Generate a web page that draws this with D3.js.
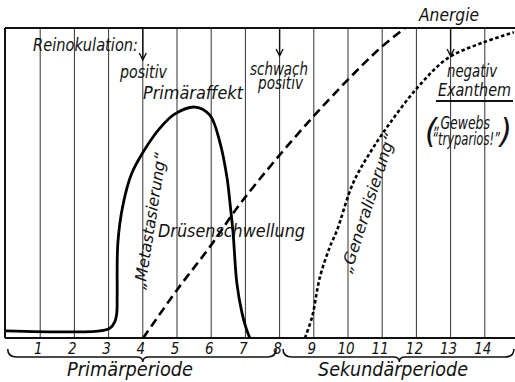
<!DOCTYPE html>
<html>
<head>
<meta charset="utf-8">
<script src="https://cdn.jsdelivr.net/npm/d3@7"></script>
<style>
  body { margin: 0; background: #fff; }
  svg text { font-family: "Liberation Sans Narrow", "DejaVu Sans Condensed", sans-serif; font-style: italic; fill: #111; }
</style>
</head>
<body>
<div id="vis"></div>
<script>
// days of the course, x axis
var days = [1, 2, 3, 4, 5, 6, 7, 8, 9, 10, 11, 12, 13, 14];
var tickLabels = ["1", "2", "3", "4", "5", "6", "7", "8", "9", "10", "11", "12", "13", "14"];

// curves, [day, intensity 0..100]
var primaeraffekt = [
  [0, 2.3], [2.75, 2.3], [3.04, 3.2], [3.18, 5.2], [3.24, 8.1], [3.25, 13.2],
  [3.27, 30.6], [3.42, 42.9], [3.68, 53.2], [4.01, 60.0], [4.5, 67.7], [4.94, 72.3],
  [5.53, 74.5], [5.96, 71.9], [6.26, 62.9], [6.46, 51.9], [6.55, 43.5], [6.64, 33.9],
  [6.75, 17.7], [6.9, 8.1], [7.02, 3.2], [7.13, 0]
];
var druesenschwellung = [
  [4.01, 0], [5.0, 15.5], [5.96, 29.4], [6.93, 44.5], [8.95, 71.0], [10.88, 92.9], [11.67, 100]
];
var generalisierung = [
  [8.74, 0], [8.95, 6.8], [9.18, 19.7], [9.47, 29.4], [9.68, 34.8], [10.15, 50],
  [10.64, 59.7], [11.23, 69.4], [12.05, 81.0], [12.92, 90.3], [13.92, 95.2], [14.85, 98.6]
];
// reinokulation arrows [day, label lines]
var arrowDays = [4, 8, 13];

var width = 515, height = 382;
var margin = { top: 28, left: 6, bottom: 44 };

var x = d3.scaleLinear().domain([0, 15]).range([margin.left, margin.left + 34.2 * 15]);
var y = d3.scaleLinear().domain([0, 100]).range([height - margin.bottom, margin.top]);

var svg = d3.select("#vis").append("svg")
  .attr("width", width)
  .attr("height", height);

////////// grid + frame //////////
svg.append("g").selectAll("line")
  .data(days)
  .enter().append("line")
  .attr("x1", function (d) { return x(d); })
  .attr("x2", function (d) { return x(d); })
  .attr("y1", y(100))
  .attr("y2", y(0))
  .attr("stroke", "#333")
  .attr("stroke-width", 1);

svg.append("line").attr("x1", x(0) - 1).attr("x2", width).attr("y1", y(100)).attr("y2", y(100))
  .attr("stroke", "#111").attr("stroke-width", 2);
svg.append("line").attr("x1", x(0) - 1).attr("x2", width).attr("y1", y(0)).attr("y2", y(0))
  .attr("stroke", "#111").attr("stroke-width", 2);
svg.append("line").attr("x1", x(0) - 1).attr("x2", x(0) - 1).attr("y1", y(100)).attr("y2", y(0))
  .attr("stroke", "#111").attr("stroke-width", 2);

// tick labels
svg.append("g").selectAll("text")
  .data(days)
  .enter().append("text")
  .attr("x", function (d) { return x(d) - 2; })
  .attr("y", y(0) + 16)
  .attr("text-anchor", "middle")
  .style("font-size", "15px")
  .text(function (d, i) { return tickLabels[i]; });

////////// curves //////////
var line = d3.line()
  .x(function (d) { return x(d[0]); })
  .y(function (d) { return y(d[1]); })
  .curve(d3.curveCatmullRom.alpha(0.5));

svg.append("path").datum(primaeraffekt)
  .attr("d", line).attr("fill", "none")
  .attr("stroke", "#000").attr("stroke-width", 2.8);

svg.append("path").datum(druesenschwellung)
  .attr("d", line).attr("fill", "none")
  .attr("stroke", "#000").attr("stroke-width", 2.6)
  .attr("stroke-dasharray", "9,5");

svg.append("path").datum(generalisierung)
  .attr("d", line).attr("fill", "none")
  .attr("stroke", "#000").attr("stroke-width", 2.6)
  .attr("stroke-dasharray", "3.5,2.5");

////////// arrows //////////
var arrowEnd = [60, 56, 56];
svg.append("g").selectAll("path")
  .data(arrowDays)
  .enter().append("path")
  .attr("d", function (d, i) {
    var cx = x(d), cy = arrowEnd[i];
    return "M" + cx + "," + y(100) + "V" + cy +
      "M" + (cx - 3.5) + "," + (cy - 7) + "L" + cx + "," + cy + "L" + (cx + 3.5) + "," + (cy - 7);
  })
  .attr("fill", "none")
  .attr("stroke", "#111")
  .attr("stroke-width", 1.4);

////////// labels //////////
function label(txt, px, py, size, len, anchor) {
  var t = svg.append("text")
    .attr("x", px).attr("y", py)
    .style("font-size", size + "px")
    .attr("text-anchor", anchor || "start")
    .text(txt);
  if (len) t.attr("textLength", len).attr("lengthAdjust", "spacingAndGlyphs");
  return t;
}

label("Reinokulation:", 33, 51, 18, 105);
label("positiv", 120, 78, 17, 47);
label("Primäraffekt", 143, 99, 18, 100);
label("schwach", 250, 75, 17, 58);
label("positiv", 258, 89, 17, 45);
label("Anergie", 419, 21, 17, 60);
label("negativ", 447, 77, 17, 50);
label("Exanthem", 438, 96, 18, 73);
svg.append("line").attr("x1", 436).attr("x2", 513).attr("y1", 101).attr("y2", 101)
  .attr("stroke", "#111").attr("stroke-width", 2);
label("(", 425, 143, 34, null);
label("„Gewebs", 434, 129, 17, 56);
label("\u201Ctryparios!\u201D", 432, 145, 17, 68);
label(")", 500, 143, 34, null);
label("Drüsenschwellung", 158, 237, 18, 147);
label("Primärperiode", 67, 376, 19, 126);
label("Sekundärperiode", 318, 376, 19, 150);

// rotated curve annotations
svg.append("text")
  .attr("transform", "translate(150,221) rotate(-81)")
  .attr("text-anchor", "middle")
  .attr("dy", "0.35em")
  .style("font-size", "16px")
  .attr("textLength", 138).attr("lengthAdjust", "spacingAndGlyphs")
  .text("„Metastasierung“");

svg.append("text")
  .attr("transform", "translate(368,203) rotate(-72)")
  .attr("text-anchor", "middle")
  .attr("dy", "0.35em")
  .style("font-size", "16px")
  .attr("textLength", 145).attr("lengthAdjust", "spacingAndGlyphs")
  .text("„Generalisierung“");

////////// braces //////////
function brace(x0, x1, tip) {
  var yTop = 349, yMid = 357, yTip = 362;
  return "M" + x0 + "," + yTop +
    "Q" + x0 + "," + yMid + " " + (x0 + 9) + "," + yMid +
    "L" + (tip - 6) + "," + yMid +
    "Q" + tip + "," + yMid + " " + tip + "," + yTip +
    "Q" + tip + "," + yMid + " " + (tip + 6) + "," + yMid +
    "L" + (x1 - 9) + "," + yMid +
    "Q" + x1 + "," + yMid + " " + x1 + "," + yTop;
}
svg.append("path").attr("d", brace(x(0.05), x(7.9), x(4)))
  .attr("fill", "none").attr("stroke", "#111").attr("stroke-width", 1.6);
svg.append("path").attr("d", brace(x(8.1), x(14.85), x(11.5)))
  .attr("fill", "none").attr("stroke", "#111").attr("stroke-width", 1.6);
</script>
</body>
</html>
